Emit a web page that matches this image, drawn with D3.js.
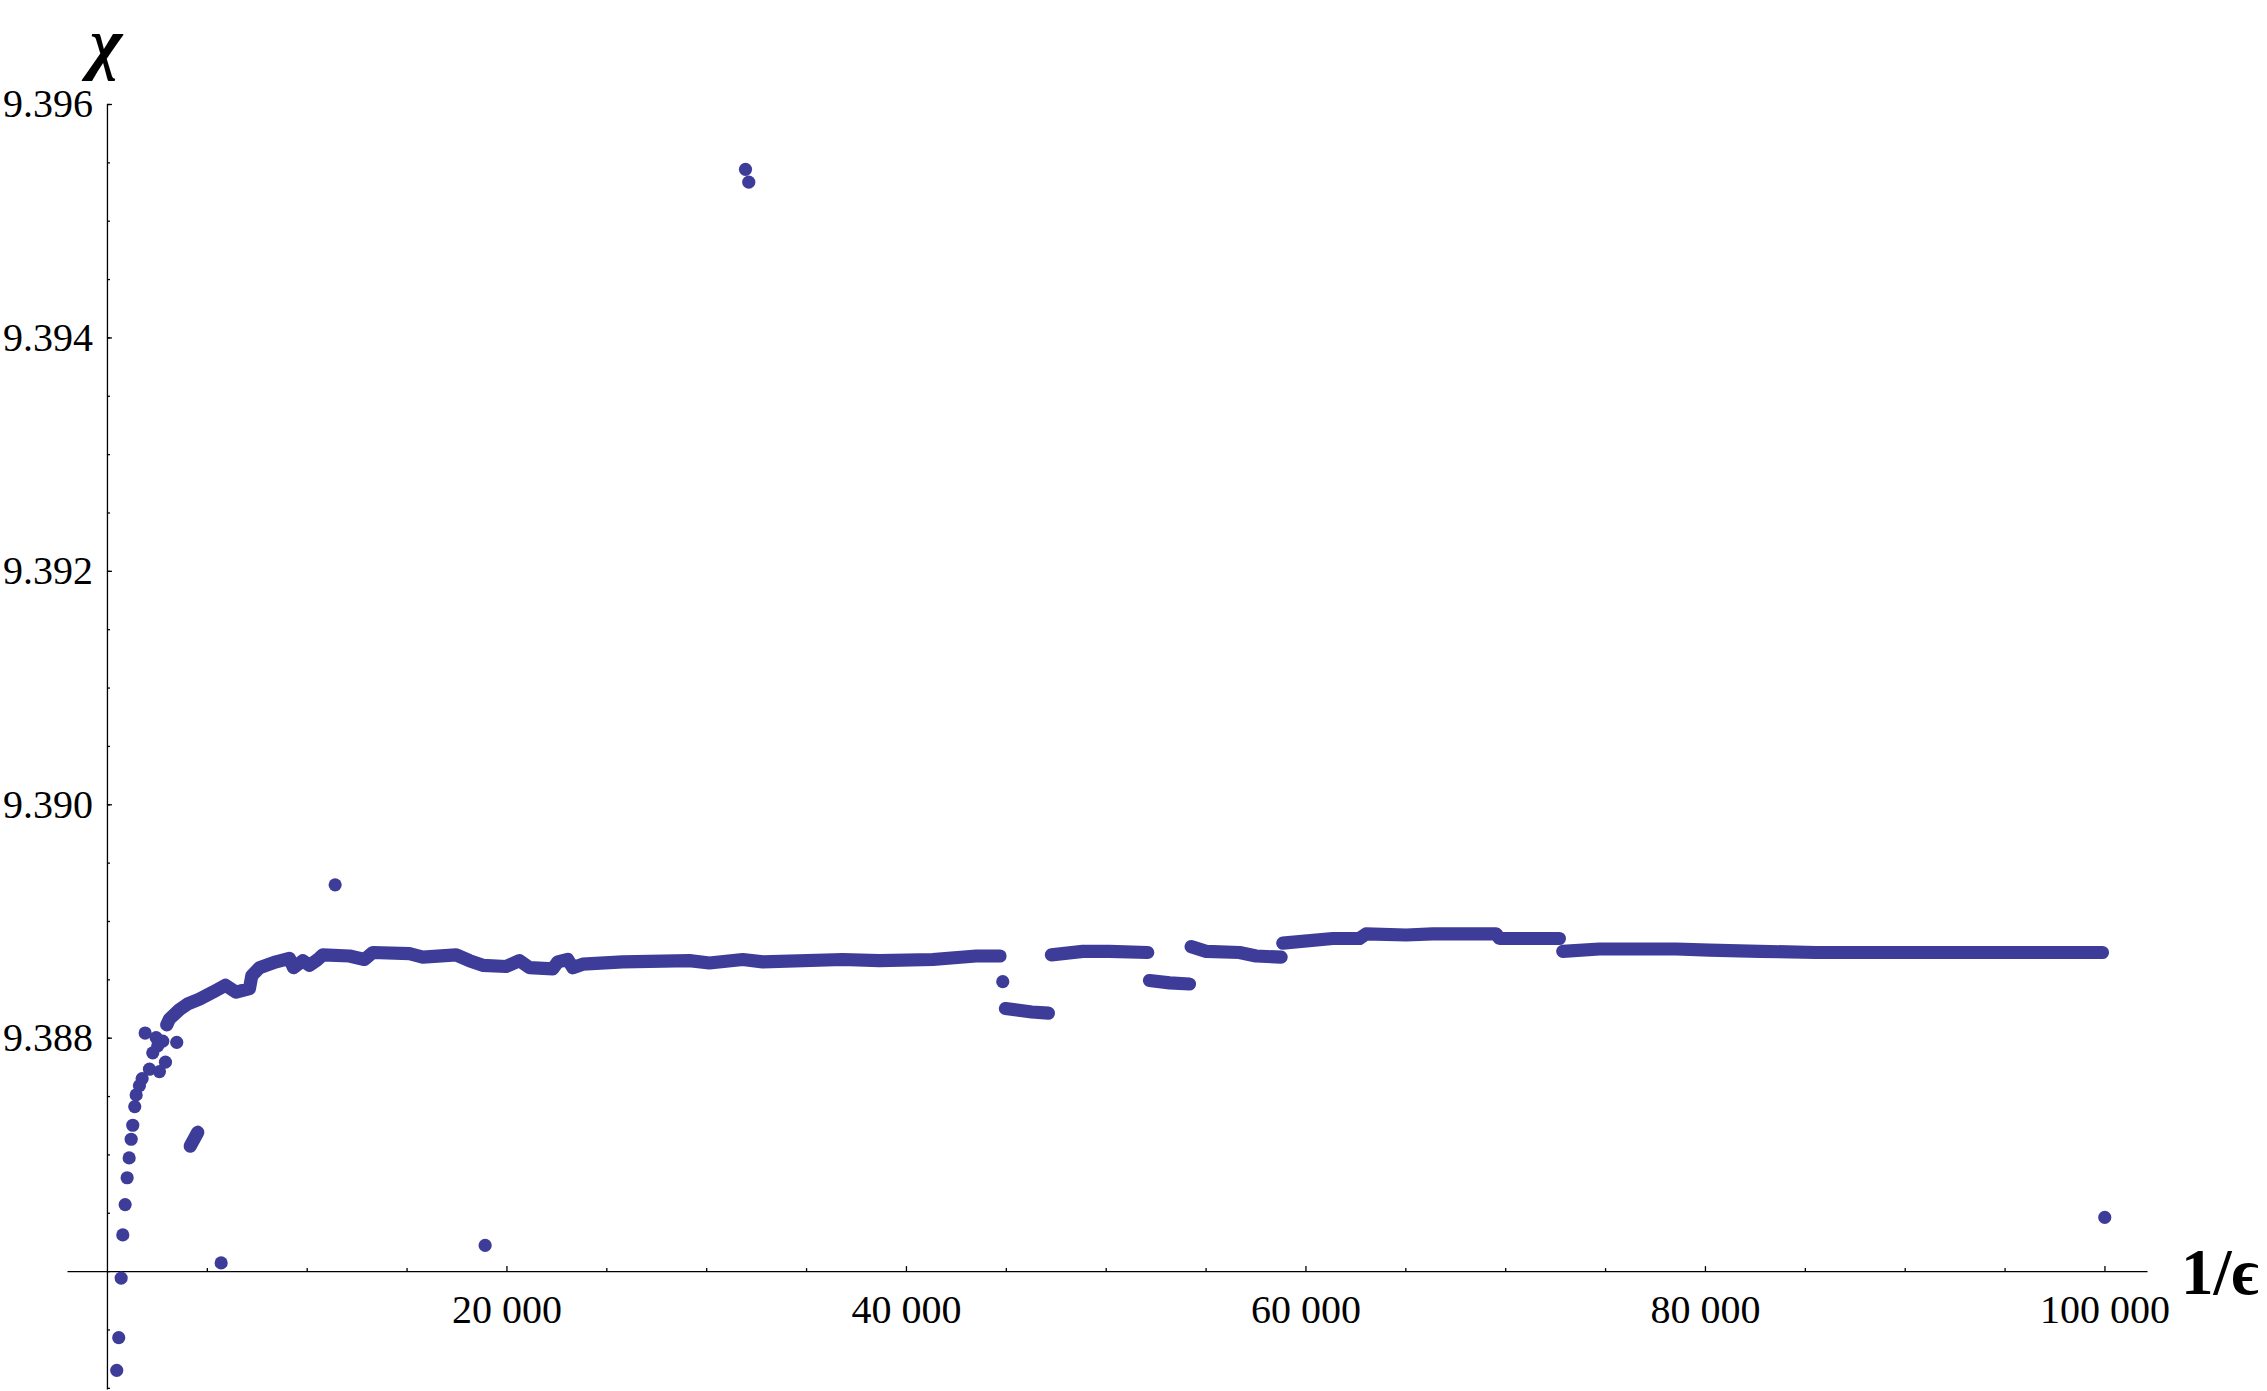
<!DOCTYPE html>
<html>
<head>
<meta charset="utf-8">
<script src="https://cdn.jsdelivr.net/npm/d3@7"></script>
<style>
  body { margin: 0; background: #fff; }
  svg { display: block; }
</style>
</head>
<body>
<script>
// scattered points of chi against 1/eps that do not merge into the band
const looseEps = [490, 590, 711, 792, 911, 1011, 1111, 1212, 1292, 1392, 1462, 1627, 1762,
                  1912, 2128, 2293, 2463, 2543, 2628, 2794, 2929, 3494, 5717, 11424, 18933,
                  31967, 32131, 44846, 100015];
const looseChi = [9.38515, 9.38543, 9.38594, 9.38631, 9.38657, 9.38680, 9.38697, 9.38713, 9.38725,
                  9.38741, 9.38751, 9.38759, 9.38765, 9.38804, 9.38773, 9.38787, 9.38800, 9.38793,
                  9.38771, 9.38797, 9.38779, 9.38796, 9.38607, 9.38931, 9.38622, 9.39544, 9.39533,
                  9.38848, 9.38646];

const runSmall = [[4165, 9.38707], [4546, 9.38719]];
const runA = [[2994, 9.38811], [3129, 9.38816], [3630, 9.38824], [4047, 9.38829], [4631, 9.38833],
              [5299, 9.38839], [5932, 9.38845], [6467, 9.38839], [7134, 9.38842], [7250, 9.38853],
              [7634, 9.38860], [8469, 9.38865], [9136, 9.38868], [9337, 9.38860], [9803, 9.38866],
              [10138, 9.38862], [10554, 9.38867], [10805, 9.38871], [12140, 9.38870], [12891, 9.38867],
              [13307, 9.38873], [15144, 9.38872], [15811, 9.38869], [17481, 9.38871], [18148, 9.38866],
              [18813, 9.38862], [19984, 9.38861], [20651, 9.38866], [21151, 9.38860], [22318, 9.38859],
              [22569, 9.38865], [23068, 9.38867], [23319, 9.38860], [23820, 9.38863], [25823, 9.38865],
              [29161, 9.38866], [30162, 9.38864], [31830, 9.38867], [32831, 9.38865], [36836, 9.38867],
              [38674, 9.38866], [41342, 9.38867], [43514, 9.38870], [44710, 9.38870]];
const runB = [[44980, 9.38825], [46300, 9.38822], [47130, 9.38821]];
const runC = [[47280, 9.38871], [48853, 9.38874], [50188, 9.38874], [52105, 9.38873]];
const runD = [[52190, 9.38849], [53200, 9.38847], [54193, 9.38846]];
const runE = [[54277, 9.38878], [55028, 9.38874], [56695, 9.38873], [57530, 9.38870], [58782, 9.38869]];
const runF = [[58864, 9.38881], [61368, 9.38885], [62704, 9.38885], [63038, 9.38889], [65040, 9.38888],
              [66373, 9.38889], [69546, 9.38889], [69710, 9.38885], [72713, 9.38885]];
const runG = [[72881, 9.38874], [74718, 9.38876], [78558, 9.38876], [80225, 9.38875], [82729, 9.38874],
              [85567, 9.38873], [99900, 9.38873]];

const xTickValues = [20000, 40000, 60000, 80000, 100000];
const yTickValues = [9.388, 9.390, 9.392, 9.394, 9.396];

const width    = 2267,
      height   = 1391,
      radius   = 6.6,
      dotColor = 'rgb(61,61,153)',
      serif    = '"Liberation Serif", "Times New Roman", serif';

const x = d3.scaleLinear().domain([-2000, 102130]).range([67, 2147]);
const y = d3.scaleLinear().domain([9.38499, 9.396]).range([1389, 104]);

const svg = d3.select('body').append('svg')
  .attr('width', width)
  .attr('height', height)
  .style('background', '#fff');

// thousands separated by a space, like the original
const fmtX = d => d3.format(',')(d).replace(/,/g, ' ');

// minor ticks (with the axis line) and major ticks with labels
const xMinor = d3.range(0, 102001, 5000).filter(v => v % 20000 !== 0);
const yMinor = d3.range(9.385, 9.39601, 0.0005);

const xAxisY = y(9.386), yAxisX = x(0);

svg.append('g')
  .attr('transform', `translate(0,${xAxisY})`)
  .call(d3.axisBottom(x).tickValues(xMinor).tickSize(-3).tickSizeOuter(0).tickFormat(''));
const gx = svg.append('g')
  .attr('transform', `translate(0,${xAxisY})`)
  .call(d3.axisBottom(x).tickValues(xTickValues).tickSize(-5).tickPadding(23).tickFormat(fmtX));
gx.select('.domain').remove();

svg.append('g')
  .attr('transform', `translate(${yAxisX},0)`)
  .call(d3.axisLeft(y).tickValues(yMinor).tickSize(-3).tickSizeOuter(0).tickFormat(''));
const gy = svg.append('g')
  .attr('transform', `translate(${yAxisX},0)`)
  .call(d3.axisLeft(y).tickValues(yTickValues).tickSize(-5).tickPadding(14).tickFormat(d3.format('.3f')));
gy.select('.domain').remove();

svg.selectAll('.domain, .tick line').attr('stroke', '#000').attr('stroke-width', 1.3);
svg.selectAll('.tick text')
  .attr('font-family', serif)
  .attr('font-size', 40)
  .attr('fill', '#000');

// dense runs: round-capped stroke as wide as a dot
const line = d3.line().x(d => x(d[0])).y(d => y(d[1]));
svg.append('g')
  .selectAll('path')
  .data([runSmall, runA, runB, runC, runD, runE, runF, runG])
  .join('path')
  .attr('d', line)
  .attr('fill', 'none')
  .attr('stroke', dotColor)
  .attr('stroke-width', radius * 2)
  .attr('stroke-linecap', 'round')
  .attr('stroke-linejoin', 'round');

svg.append('g')
  .selectAll('circle')
  .data(d3.zip(looseEps, looseChi))
  .join('circle')
  .attr('cx', d => x(d[0]))
  .attr('cy', d => y(d[1]))
  .attr('r', radius)
  .attr('fill', dotColor);

// axis labels
svg.append('text')
  .attr('x', 106)
  .attr('y', 66)
  .attr('text-anchor', 'middle')
  .attr('font-family', serif)
  .attr('font-style', 'italic')
  .attr('font-weight', 'bold')
  .attr('font-size', 70)
  .text('χ');

svg.append('text')
  .attr('x', 2181)
  .attr('y', 1294)
  .attr('font-family', serif)
  .attr('font-weight', 'bold')
  .attr('font-size', 65)
  .text('1/ϵ');
</script>
</body>
</html>
